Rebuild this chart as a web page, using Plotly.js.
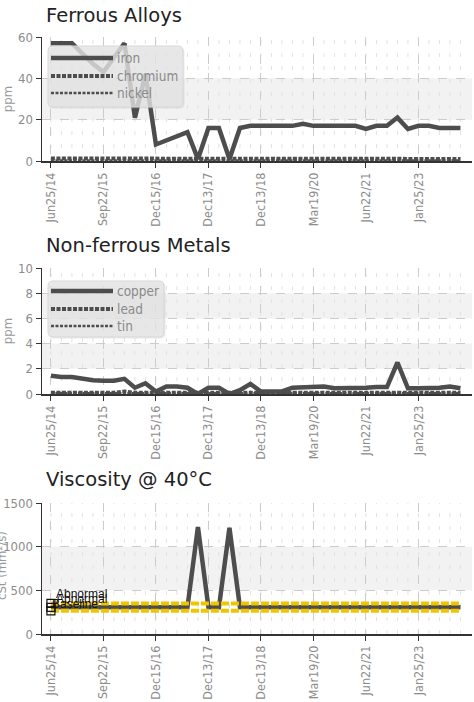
<!DOCTYPE html>
<html><head><meta charset="utf-8">
<script src="https://cdn.plot.ly/plotly-3.0.1.min.js"></script>
<style>html,body{margin:0;padding:0;background:#fff}#chart{width:474px;height:702px}</style>
</head><body><div id="chart"></div>
<script>
// sample dates (category axis); every 5th one is labelled
const sampleDates = ['Jun25/14','Sep10/14','Nov20/14','Feb05/15','May14/15','Sep22/15','Dec08/15','Mar03/16','Jun09/16','Sep15/16',
  'Dec15/16','Mar09/17','May25/17','Jul20/17','Sep28/17','Dec13/17','Mar07/18','Jun14/18','Aug30/18','Oct25/18',
  'Dec13/18','Mar21/19','Jun20/19','Sep12/19','Dec05/19','Mar19/20','Jun25/20','Sep17/20','Dec10/20','Mar18/21',
  'Jun22/21','Sep23/21','Dec16/21','Apr07/22','Aug18/22','Jan25/23','Jun15/23','Oct19/23','Mar14/24','Aug22/24'];
const tickLabels = ['Jun25/14','Sep22/15','Dec15/16','Dec13/17','Dec13/18','Mar19/20','Jun22/21','Jan25/23'];

// Ferrous alloys (ppm)
const iron     = [57,57,57,52,47,43,50,57,21,42, 8,10,12,14,1,16,16,1,16,17, 17,17,17,17,18,17,17,17,17,17, 15.5,17,17,21,15.5,17,17,16,16,16];
const chromium = [1.2,1.2,1.2,1.2,1.2,1.2,1.2,1.2,1.0,1.0, 0.8,0.8,0.8,0.8,0.8,1.0,1.0,0.8,1.0,1.0, 1.0,1.0,1.0,1.0,1.0,1.0,1.0,1.0,1.0,1.0, 1.0,1.0,1.0,1.0,1.0,1.0,1.0,1.0,1.0,1.0];
const nickel   = [0.3,0.3,0.3,0.3,0.3,0.3,0.3,0.3,0.2,0.2, 0.1,0.1,0.1,0.1,0.1,0.2,0.2,0.1,0.2,0.2, 0.2,0.2,0.2,0.2,0.2,0.2,0.2,0.2,0.2,0.2, 0.2,0.2,0.2,0.2,0.2,0.2,0.2,0.2,0.2,0.2];

// Non-ferrous metals (ppm)
const copper = [1.45,1.35,1.35,1.2,1.1,1.05,1.05,1.2,0.5,0.85, 0.2,0.6,0.6,0.5,0,0.5,0.5,0,0.3,0.8, 0.2,0.2,0.2,0.5,0.55,0.6,0.6,0.45,0.45,0.5, 0.5,0.55,0.55,2.5,0.45,0.45,0.45,0.5,0.6,0.45];
const lead   = [0.1,0.1,0.1,0.15,0.1,0.1,0.1,0.2,0.1,0.1, 0.1,0.1,0.15,0.1,0.1,0.1,0.1,0.1,0.1,0.1, 0.1,0.1,0.1,0.1,0.1,0.1,0.15,0.1,0.1,0.1, 0.1,0.1,0.1,0.1,0.1,0.1,0.1,0.1,0.1,0.1];
const tin    = [0.05,0.05,0.05,0.05,0.05,0.05,0.05,0.05,0.05,0.05, 0.05,0.05,0.05,0.05,0.05,0.05,0.05,0.05,0.05,0.05, 0.05,0.05,0.05,0.05,0.05,0.05,0.05,0.05,0.05,0.05, 0.05,0.05,0.05,0.05,0.05,0.05,0.05,0.05,0.05,0.05];

// Viscosity @ 40°C
const viscosity = [305,305,305,305,305,305,305,305,305,305, 305,305,305,305,1225,305,305,1215,305,305, 305,305,305,305,305,305,305,305,305,305, 305,305,305,305,305,305,305,305,305,305];
const viscLimitX = [sampleDates[0], sampleDates[sampleDates.length-1]];
const viscUpper = [350, 350];
const viscLower = [265, 265];
const limitLabelY = [350, 265, 305];
const limitLabelText = ['Abnormal', 'Abnormal', 'Baseline'];

const NARROW = 'Liberation Sans Narrow, DejaVu Sans Condensed, sans-serif';
const DARK = '#4d4d4d';
const H = 702, L = 42, PW = 430;
const py = p => 1 - p / H;
const px = p => (p - L) / PW;

function xAxis() {
  return {
    type: 'category', categoryorder: 'array', categoryarray: sampleDates,
    range: [-0.85, 40.1], tickmode: 'array', tickvals: tickLabels, ticktext: tickLabels,
    tickangle: -90, ticks: 'outside', ticklen: 5, tickcolor: '#333',
    showgrid: true, gridcolor: '#cccccc', griddash: 'dash', gridwidth: 1,
    showline: true, linecolor: '#333', linewidth: 1.5, zeroline: false,
    tickfont: {family: NARROW, size: 12.5, color: '#8c8c8c'}, fixedrange: true
  };
}
function yAxis(range, dtick, dom, title, xa) {
  return {
    domain: dom, range: range, dtick: dtick, tick0: 0, anchor: xa,
    ticks: 'outside', ticklen: 5, tickcolor: '#333',
    showgrid: true, gridcolor: '#cccccc', griddash: 'dash',
    showline: true, linecolor: '#333', linewidth: 1.5, zeroline: false,
    tickfont: {family: NARROW, size: 13, color: '#8c8c8c'},
    title: {text: title, font: {family: NARROW, size: 13, color: '#999'}},
    fixedrange: true
  };
}

const traces = [
  {x: sampleDates, y: iron, name: 'iron', mode: 'lines', xaxis: 'x', yaxis: 'y', legendgroup: 'g1',
   line: {color: DARK, width: 4.5}},
  {x: sampleDates, y: chromium, name: 'chromium', mode: 'lines', xaxis: 'x', yaxis: 'y', legendgroup: 'g1',
   line: {color: DARK, width: 4, dash: '4px,1.5px'}},
  {x: sampleDates, y: nickel, name: 'nickel', mode: 'lines', xaxis: 'x', yaxis: 'y', legendgroup: 'g1',
   line: {color: DARK, width: 2.5, dash: '3px,1.5px'}},

  {x: sampleDates, y: copper, name: 'copper', mode: 'lines', xaxis: 'x2', yaxis: 'y2', legendgroup: 'g2',
   line: {color: DARK, width: 4.5}},
  {x: sampleDates, y: lead, name: 'lead', mode: 'lines', xaxis: 'x2', yaxis: 'y2', legendgroup: 'g2',
   line: {color: DARK, width: 4, dash: '4px,1.5px'}},
  {x: sampleDates, y: tin, name: 'tin', mode: 'lines', xaxis: 'x2', yaxis: 'y2', legendgroup: 'g2',
   line: {color: DARK, width: 2.5, dash: '3px,1.5px'}},

  {x: sampleDates, y: viscosity, name: 'viscosity', mode: 'lines', xaxis: 'x3', yaxis: 'y3',
   line: {color: DARK, width: 4.5}},
  {x: viscLimitX, y: viscUpper, mode: 'lines', xaxis: 'x3', yaxis: 'y3',
   line: {color: '#f2c300', width: 4, dash: '8px,2px'}},
  {x: viscLimitX, y: viscLower, mode: 'lines', xaxis: 'x3', yaxis: 'y3',
   line: {color: '#f2c300', width: 4, dash: '8px,2px'}},
  {x: limitLabelY.map(() => sampleDates[0]), y: limitLabelY, mode: 'markers',
   xaxis: 'x3', yaxis: 'y3', cliponaxis: false,
   marker: {symbol: 'square-open', size: 8, color: '#111', line: {width: 1.2}}}
];

const shapes = [];
const annotations = [];
function band(xa, ya, y0, y1) {
  shapes.push({type: 'rect', xref: xa + ' domain', yref: ya, x0: 0, x1: 1, y0: y0, y1: y1,
    fillcolor: '#f2f2f2', line: {width: 0}, layer: 'below'});
}
band('x', 'y', 20, 40);
band('x2', 'y2', 2, 4); band('x2', 'y2', 6, 8);
band('x3', 'y3', 500, 1000);
[['x','y'],['x2','y2'],['x3','y3']].forEach(([xa, ya]) => {
  sampleDates.forEach(d => {
    shapes.push({type: 'line', xref: xa, yref: ya + ' domain', x0: d, x1: d, y0: 0, y1: 1,
      line: {color: '#e2e2e2', width: 1, dash: '4px,9px'}, layer: 'below'});
  });
});

// limit labels at the start of the viscosity chart
const labelShift = [[0, 9], [0, 12], [-4, 3]];
limitLabelText.forEach((t, i) => {
  annotations.push({text: t, xref: 'x3', yref: 'y3', x: sampleDates[0], y: limitLabelY[i],
    xanchor: 'left', yanchor: 'middle', xshift: 3 + labelShift[i][0], yshift: labelShift[i][1], showarrow: false,
    font: {family: 'Liberation Sans, Arial, sans-serif', size: 12, color: '#111'}});
});

// legend boxes drawn by hand (rounded box, long line samples)
function roundedBox(x0, y0, x1, y1, r) {
  const X = px, Y = py;
  return 'M' + X(x0 + r) + ',' + Y(y0) + ' L' + X(x1 - r) + ',' + Y(y0) +
    ' Q' + X(x1) + ',' + Y(y0) + ' ' + X(x1) + ',' + Y(y0 + r) +
    ' L' + X(x1) + ',' + Y(y1 - r) + ' Q' + X(x1) + ',' + Y(y1) + ' ' + X(x1 - r) + ',' + Y(y1) +
    ' L' + X(x0 + r) + ',' + Y(y1) + ' Q' + X(x0) + ',' + Y(y1) + ' ' + X(x0) + ',' + Y(y1 - r) +
    ' L' + X(x0) + ',' + Y(y0 + r) + ' Q' + X(x0) + ',' + Y(y0) + ' ' + X(x0 + r) + ',' + Y(y0) + ' Z';
}
function legendFor(group, box, rowY) {
  shapes.push({type: 'path', xref: 'paper', yref: 'paper', path: roundedBox(box[0] + 1.5, box[1] + 1.5, box[2] + 1.5, box[3] + 1.5, 5),
    fillcolor: 'rgba(180,180,180,0.25)', line: {width: 0}, layer: 'above'});
  shapes.push({type: 'path', xref: 'paper', yref: 'paper', path: roundedBox(box[0], box[1], box[2], box[3], 5),
    fillcolor: 'rgba(229,229,229,0.76)', line: {color: '#d6d6d6', width: 1}, layer: 'above'});
  traces.filter(t => t.legendgroup === group).forEach((t, i) => {
    shapes.push({type: 'line', xref: 'paper', yref: 'paper', x0: px(51), x1: px(113), y0: py(rowY[i]), y1: py(rowY[i]),
      line: {color: t.line.color, width: t.line.width, dash: t.line.dash || 'solid'}, layer: 'above'});
    annotations.push({text: t.name, xref: 'paper', yref: 'paper', x: px(115), y: py(rowY[i]),
      xanchor: 'left', yanchor: 'middle', showarrow: false,
      font: {family: NARROW, size: 13.5, color: '#8a8a8a'}});
  });
}
legendFor('g1', [48, 46, 183, 107], [58, 76, 93]);
legendFor('g2', [48, 281, 164, 337], [291, 309, 326]);

function title(text, baselinePx) {
  annotations.push({text: text, xref: 'paper', yref: 'paper', x: px(44), y: py(baselinePx + 6),
    xanchor: 'left', yanchor: 'bottom', showarrow: false,
    font: {family: 'DejaVu Sans, Verdana, sans-serif', size: 19.5, color: '#222'}});
}
title('Ferrous Alloys', 23);
title('Non-ferrous Metals', 253);
title('Viscosity @ 40°C', 487);
// viscosity axis title sits at the very left edge (mostly outside the picture, as in the original)
annotations.push({text: 'cSt (mm²/s)', xref: 'paper', yref: 'paper', x: px(1), y: py(566),
  xanchor: 'center', yanchor: 'middle', textangle: -90, showarrow: false,
  font: {family: NARROW, size: 13, color: '#999'}});

const layout = {
  width: 474, height: 702,
  margin: {l: L, r: 2, t: 0, b: 0},
  paper_bgcolor: '#fff', plot_bgcolor: '#fff',
  showlegend: false,
  xaxis: Object.assign(xAxis(), {anchor: 'y'}),
  xaxis2: Object.assign(xAxis(), {anchor: 'y2'}),
  xaxis3: Object.assign(xAxis(), {anchor: 'y3'}),
  yaxis: yAxis([0, 60], 20, [py(161), py(37)], 'ppm', 'x'),
  yaxis2: yAxis([0, 10], 2, [py(394), py(268)], 'ppm', 'x2'),
  yaxis3: yAxis([0, 1500], 500, [py(634), py(503)], '', 'x3'),
  shapes: shapes,
  annotations: annotations
};

Plotly.newPlot('chart', traces, layout, {displayModeBar: false, staticPlot: true});
</script></body></html>
